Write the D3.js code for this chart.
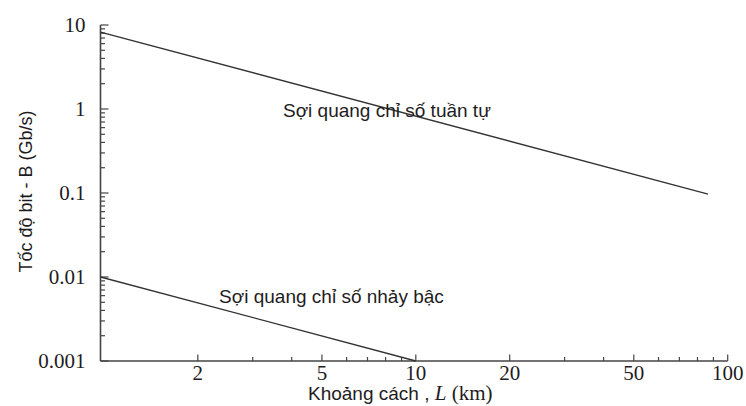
<!DOCTYPE html>
<html>
<head>
<meta charset="utf-8">
<script src="https://cdn.jsdelivr.net/npm/d3@7"></script>
<style>
  html, body { margin: 0; padding: 0; background: #fff; }
  svg { display: block; }
</style>
</head>
<body>
<svg id="chart" width="746" height="406"></svg>
<script>
// ---- data ----
const xDomain = [0.975, 100];          // distance L (km)
const yDomain = [0.001, 10];           // bit rate B (Gb/s)
const xTickLabels = [2, 5, 10, 20, 50, 100];
const yTickLabels = [0.001, 0.01, 0.1, 1, 10];
const gradedL = [0.975, 86.5];         // graded-index fibre
const gradedB = [8.25, 0.097];
const stepL = [0.975, 10];             // step-index fibre
const stepB = [0.01, 0.001];
const labelTexts = ["Sợi quang chỉ số tuần tự", "Sợi quang chỉ số nhảy bậc"];
const labelL = [3.75, 2.34];
const labelB = [0.80, 0.00494];
const yTitle = "Tốc độ bit - B (Gb/s)";

// ---- layout ----
const svg = d3.select("#chart");
const mLeft = 100.5, mRight = 727.7, mTop = 25, mBottom = 361;
const x = d3.scaleLog().domain(xDomain).range([mLeft, mRight]);
const y = d3.scaleLog().domain(yDomain).range([mBottom, mTop]);
const axisColor = "#444";
const textColor = "#1e1c22";

// minor/major tick values
const yMajor = yTickLabels;
const yMinor = [];
for (let d = 0; d < yTickLabels.length - 1; d++)
  for (let k = 2; k <= 9; k++) yMinor.push(yTickLabels[d] * k);
const xAll = [];
[1, 10].forEach(dec => { for (let k = 1; k <= 9; k++) xAll.push(dec * k); });
xAll.push(100);
const xTicks = xAll.filter(v => v >= 1.5);
const xMajor = xTicks.filter(v => xTickLabels.includes(v));
const xMinor = xTicks.filter(v => !xTickLabels.includes(v));

const g = svg.append("g");

// y axis ticks (inward)
g.selectAll(".ymaj").data(yMajor).enter().append("line")
  .attr("x1", mLeft).attr("x2", mLeft + 8)
  .attr("y1", d => y(d)).attr("y2", d => y(d))
  .attr("stroke", axisColor).attr("stroke-width", 1.2);
g.selectAll(".ymin").data(yMinor).enter().append("line")
  .attr("x1", mLeft).attr("x2", mLeft + 4.5)
  .attr("y1", d => y(d)).attr("y2", d => y(d))
  .attr("stroke", axisColor).attr("stroke-width", 1.2);

// x axis ticks (inward)
g.selectAll(".xmaj").data(xMajor).enter().append("line")
  .attr("x1", d => x(d)).attr("x2", d => x(d))
  .attr("y1", mBottom).attr("y2", mBottom - 6.5)
  .attr("stroke", axisColor).attr("stroke-width", 1.2);
g.selectAll(".xmin").data(xMinor).enter().append("line")
  .attr("x1", d => x(d)).attr("x2", d => x(d))
  .attr("y1", mBottom).attr("y2", mBottom - 4)
  .attr("stroke", axisColor).attr("stroke-width", 1.2);

// axis lines
g.append("line").attr("x1", mLeft).attr("x2", mLeft).attr("y1", y(yDomain[1])).attr("y2", mBottom)
  .attr("stroke", axisColor).attr("stroke-width", 1.6);
g.append("line").attr("x1", mLeft).attr("x2", mRight).attr("y1", mBottom).attr("y2", mBottom)
  .attr("stroke", axisColor).attr("stroke-width", 1.6);

// tick labels
const fmt = v => String(v);
g.selectAll(".ylab").data(yTickLabels).enter().append("text")
  .attr("x", mLeft - 15).attr("y", d => y(d)).attr("dy", "0.34em")
  .attr("text-anchor", "end")
  .attr("font-family", "'Liberation Serif', 'Times New Roman', serif")
  .attr("font-size", 21).attr("fill", textColor)
  .text(fmt);
g.selectAll(".xlab").data(xTickLabels).enter().append("text")
  .attr("x", d => x(d)).attr("y", 379.5)
  .attr("text-anchor", "middle")
  .attr("font-family", "'Liberation Serif', 'Times New Roman', serif")
  .attr("font-size", 21).attr("fill", textColor)
  .text(fmt);

// series lines
const line = d3.line().x(d => x(d[0])).y(d => y(d[1]));
const series = [
  d3.zip(gradedL, gradedB),
  d3.zip(stepL, stepB)
];
g.selectAll(".series").data(series).enter().append("path")
  .attr("d", line).attr("fill", "none")
  .attr("stroke", "#333").attr("stroke-width", 1.3);

// annotation labels
g.selectAll(".ann").data(labelTexts).enter().append("text")
  .attr("x", (d, i) => x(labelL[i])).attr("y", (d, i) => y(labelB[i]))
  .attr("font-family", "'Liberation Sans', Arial, sans-serif")
  .attr("font-size", 19).attr("fill", textColor)
  .text(d => d);

// axis titles
const xt = g.append("text").attr("x", 308).attr("y", 400)
  .attr("fill", textColor).attr("font-size", 19);
xt.append("tspan").attr("font-family", "'Liberation Sans', Arial, sans-serif").text("Khoảng cách , ");
xt.append("tspan").attr("font-family", "'Liberation Serif', serif").attr("font-style", "italic").attr("font-size", 21).text("L");
xt.append("tspan").attr("font-family", "'Liberation Serif', serif").attr("font-size", 21).text(" (km)");

g.append("text")
  .attr("transform", `translate(32, ${191.5}) rotate(-90)`)
  .attr("text-anchor", "middle")
  .attr("font-family", "'Liberation Sans', Arial, sans-serif")
  .attr("font-size", 18).attr("fill", textColor)
  .text(yTitle);
</script>
</body>
</html>
